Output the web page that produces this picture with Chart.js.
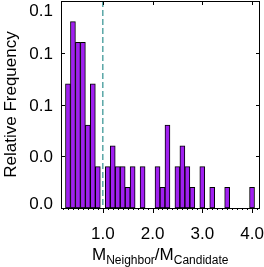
<!DOCTYPE html>
<html>
<head>
<meta charset="utf-8">
<script src="https://cdn.jsdelivr.net/npm/chart.js@4"></script>
<style>
    html, body { margin: 0; padding: 0; background: #fff; }
    #wrap { width: 264px; height: 267px; }
</style>
</head>
<body>
<div id="wrap"><canvas id="histo"></canvas></div>
<script>
// === datos del histograma (centros de bin, ancho 0.1) ===
const binCentres = [0.3, 0.4, 0.5, 0.6, 0.7, 0.8, 0.9, 1.1, 1.2, 1.3, 1.4, 1.5, 1.6, 1.8,
    2.1, 2.2, 2.3, 2.5, 2.6, 2.7, 2.8, 3.0, 3.2, 3.5, 4.0];
const relFreq = [0.078, 0.117, 0.104, 0.104, 0.052, 0.078, 0.026, 0.026, 0.039, 0.026, 0.026,
    0.013, 0.026, 0.026, 0.026, 0.013, 0.052, 0.026, 0.039, 0.026, 0.013, 0.026, 0.013, 0.013, 0.013];
const yTicks = [0, 0.0325, 0.065, 0.0975, 0.13];
const xMajorTicks = [1.0, 2.0, 3.0, 4.0];
const xMinorStart = 0.2;
const xMinorEnd = 4.1;
const ratioLine = 1.0;

const FONT = '"Liberation Sans", Arial, sans-serif';

// ejes estilo IDL dibujados con las escalas de Chart.js
const axesPlugin = {
    id: "idlAxes",
    beforeDatasetsDraw(chart) {
        const { ctx, chartArea: a, scales: { x } } = chart;
        const px = x.getPixelForValue(ratioLine);
        ctx.save();
        ctx.strokeStyle = "#5aa6a6";
        ctx.lineWidth = 1.5;
        ctx.setLineDash([6, 3]);
        ctx.beginPath();
        ctx.moveTo(px, a.top);
        ctx.lineTo(px, a.bottom);
        ctx.stroke();
        ctx.restore();
    },
    afterDatasetsDraw(chart) {
        const { ctx, chartArea: a, scales: { x, y } } = chart;
        ctx.save();
        ctx.strokeStyle = "#000";
        ctx.lineWidth = 1;
        ctx.strokeRect(a.left + 0.5, a.top + 0.5, a.right - a.left - 1, a.bottom - a.top);

        ctx.beginPath();
        // ticks menores abajo
        for (let i = 0; ; i++) {
            const v = xMinorStart + i * 0.1;
            if (v > xMinorEnd + 1e-6) break;
            const p = Math.round(x.getPixelForValue(v)) + 0.5;
            ctx.moveTo(p, a.bottom);
            ctx.lineTo(p, a.bottom + 2);
        }
        xMajorTicks.forEach((v) => {
            const p = Math.round(x.getPixelForValue(v)) + 0.5;
            ctx.moveTo(p, a.bottom);
            ctx.lineTo(p, a.bottom + 5);
            ctx.moveTo(p, a.top);
            ctx.lineTo(p, a.top + 4);
        });
        yTicks.slice(1, -1).forEach((v) => {
            const p = Math.round(y.getPixelForValue(v)) + 0.5;
            ctx.moveTo(a.left, p);
            ctx.lineTo(a.left + 4, p);
            ctx.moveTo(a.right, p);
            ctx.lineTo(a.right - 4, p);
        });
        ctx.stroke();

        // etiquetas
        ctx.fillStyle = "#000";
        ctx.font = "17px " + FONT;
        ctx.textAlign = "center";
        ctx.textBaseline = "alphabetic";
        xMajorTicks.forEach((v) => {
            ctx.fillText(v.toFixed(1), x.getPixelForValue(v), a.bottom + 31);
        });
        ctx.textAlign = "right";
        yTicks.forEach((v) => {
            let p = y.getPixelForValue(v);
            p = Math.min(Math.max(p, a.top + 8.5), a.bottom - 5);
            ctx.fillText(v.toFixed(1), 53, p + 6);
        });

        // título eje Y
        ctx.save();
        ctx.translate(16, (a.top + a.bottom) / 2);
        ctx.rotate(-Math.PI / 2);
        ctx.textAlign = "center";
        ctx.fillText("Relative Frequency", 0, 0);
        ctx.restore();

        // título eje X con subíndices
        ctx.textAlign = "left";
        let cx = 92;
        const base = 260;
        const parts = [
            ["M", 17, 0],
            ["Neighbor", 12, 3.5],
            ["/", 17, 0],
            ["M", 17, 0],
            ["Candidate", 12, 3.5],
        ];
        parts.forEach(([t, size, dy]) => {
            ctx.font = size + "px " + FONT;
            ctx.fillText(t, cx, base + dy);
            cx += ctx.measureText(t).width;
        });
        ctx.restore();
    },
};

const ctxHisto = document.getElementById("histo").getContext("2d");
new Chart(ctxHisto, {
    type: "bar",
    data: {
        datasets: [
            {
                data: binCentres.map((c, i) => ({ x: c, y: relFreq[i] })),
                backgroundColor: "#a020f0",
                borderColor: "#000",
                borderWidth: 1,
                borderSkipped: false,
                barPercentage: 1,
                categoryPercentage: 1,
            },
        ],
    },
    options: {
        responsive: true,
        maintainAspectRatio: false,
        animation: false,
        layout: { padding: { left: 61, right: 4, top: 1, bottom: 59 } },
        plugins: { legend: { display: false }, tooltip: { enabled: false } },
        scales: {
            x: {
                type: "linear",
                min: 0.16,
                max: 4.16,
                offset: false,
                grid: { offset: false },
                display: false,
            },
            y: { min: 0, max: 0.13, display: false },
        },
    },
    plugins: [axesPlugin],
});
</script>
</body>
</html>
